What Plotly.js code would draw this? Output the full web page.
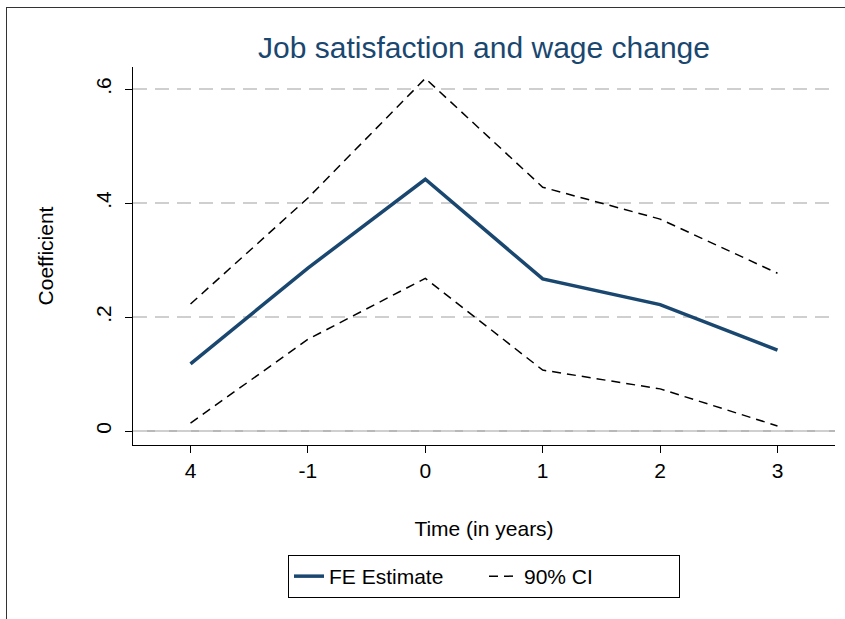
<!DOCTYPE html>
<html>
<head>
<meta charset="utf-8">
<script src="https://cdn.plot.ly/plotly-3.0.1.min.js"></script>
<style>
  html, body { margin: 0; padding: 0; background: #fff; }
  #wrap { position: relative; width: 845px; height: 619px; }
  #chart { position: absolute; left: 0; top: 0; width: 845px; height: 619px; }
  #frame { position: absolute; left: 6px; top: 7px; right: 0; bottom: 0;
           border-top: 1px solid #333; border-left: 1px solid #333; pointer-events: none; }
</style>
</head>
<body>
<div id="wrap">
  <div id="chart"></div>
  <div id="frame"></div>
</div>
<script>
// Data
const timeLabels = ["4", "-1", "0", "1", "2", "3"];
const fePosition = [0, 1, 2, 3, 4, 5];
const feEstimate = [0.118, 0.286, 0.442, 0.267, 0.222, 0.142];
const ciUpper    = [0.223, 0.409, 0.619, 0.428, 0.372, 0.277];
const ciLower    = [0.014, 0.161, 0.268, 0.107, 0.074, 0.009];
const yTicks     = [0, 0.2, 0.4, 0.6];
const yTickText  = ["0", ".2", ".4", ".6"];

const font = "Liberation Sans, Arial, sans-serif";

const traces = [
  {
    x: fePosition, y: feEstimate, type: "scatter", mode: "lines",
    name: "FE Estimate",
    line: { color: "#1a476f", width: 3.5 }
  },
  {
    x: fePosition, y: ciUpper, type: "scatter", mode: "lines",
    name: "90% CI", legendgroup: "ci",
    line: { color: "#000000", width: 1.5, dash: "9px,6px" }
  },
  {
    x: fePosition, y: ciLower, type: "scatter", mode: "lines",
    name: "90% CI", legendgroup: "ci", showlegend: false,
    line: { color: "#000000", width: 1.5, dash: "9px,6px" }
  }
];

const layout = {
  width: 845, height: 619,
  paper_bgcolor: "rgba(0,0,0,0)",
  plot_bgcolor: "#ffffff",
  margin: { l: 133, r: 10, t: 67, b: 174 },
  font: { family: font, color: "#000" },
  title: {
    text: "Job satisfaction and wage change",
    font: { family: font, size: 30, color: "#1a476f" },
    x: 0.5, xref: "paper", xanchor: "center",
    y: 1 - 47 / 619, yref: "container", yanchor: "middle"
  },
  xaxis: {
    range: [-0.49, 5.49],
    tickmode: "array", tickvals: fePosition, ticktext: timeLabels,
    ticks: "outside", ticklen: 7, tickcolor: "#000", tickwidth: 1,
    tickfont: { size: 21, family: font },
    showgrid: false, zeroline: false,
    showline: true, linecolor: "#000", linewidth: 1,
    title: { text: "Time (in years)", font: { size: 21, family: font }, standoff: 40 }
  },
  yaxis: {
    range: [-0.0245, 0.639],
    tickmode: "array", tickvals: yTicks, ticktext: yTickText,
    tickangle: -90,
    ticks: "outside", ticklen: 7, tickcolor: "#000", tickwidth: 1,
    ticklabelstandoff: 6,
    tickfont: { size: 21, family: font },
    showgrid: true, gridcolor: "#cfcfcf", gridwidth: 1.5, griddash: "14px,8px",
    zeroline: false,
    showline: true, linecolor: "#000", linewidth: 1,
    title: { text: "Coefficient", font: { size: 21, family: font }, standoff: 32 }
  },
  shapes: [
    { type: "line", xref: "paper", x0: 0, x1: 1, yref: "y", y0: 0, y1: 0,
      line: { color: "#a0a0a0", width: 1.5 }, layer: "below" }
  ],
  showlegend: true,
  legend: {
    orientation: "h",
    x: 0.5, xanchor: "center",
    y: -0.291, yanchor: "top",
    bordercolor: "#000", borderwidth: 1,
    bgcolor: "#fff",
    font: { size: 21, family: font },
    entrywidth: 150,
    traceorder: "normal"
  }
};

Plotly.newPlot("chart", traces, layout, { displayModeBar: false, staticPlot: true });
</script>
</body>
</html>
